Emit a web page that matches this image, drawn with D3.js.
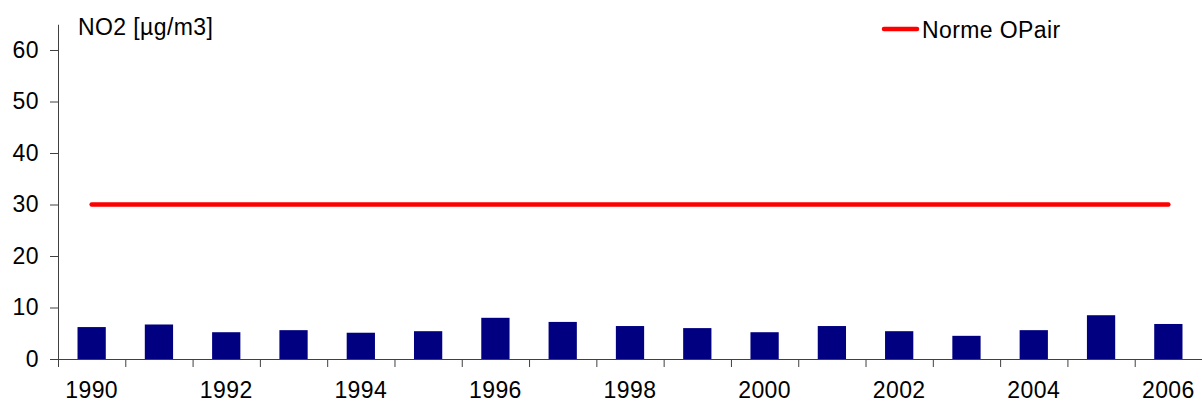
<!DOCTYPE html>
<html>
<head>
<meta charset="utf-8">
<script src="https://cdn.jsdelivr.net/npm/d3@7"></script>
<style>
  html, body { margin: 0; padding: 0; background: #fff; }
  svg { display: block; font-family: "Liberation Sans", Arial, sans-serif; }
</style>
</head>
<body>
<svg id="chart" width="1202" height="403"></svg>
<script>
const years = [1990, 1991, 1992, 1993, 1994, 1995, 1996, 1997, 1998, 1999, 2000, 2001, 2002, 2003, 2004, 2005, 2006];
const no2Values = [6.2, 6.7, 5.2, 5.6, 5.1, 5.4, 8.0, 7.2, 6.4, 6.0, 5.2, 6.4, 5.4, 4.5, 5.6, 8.5, 6.8];
const normeValue = 30;
const yTicks = [0, 10, 20, 30, 40, 50, 60];
const xTickLabels = [1990, 1992, 1994, 1996, 1998, 2000, 2002, 2004, 2006];
const yLabel = "NO2 [µg/m3]";
const legendLabel = "Norme OPair";

const svg = d3.select("#chart");
const left = 58, right = 1202, bottom = 359;
const fontSize = 23;
const spacing = "0.4px";

const x = d3.scaleBand().domain(years).range([left, right]).paddingInner(0.58).paddingOuter(0.29);
const xEdges = d3.scaleLinear().domain([0, years.length]).range([left, right]);
const y = d3.scaleLinear().domain([0, 65]).range([bottom, 24.25]);

const axisColor = "#404040";

// bars
svg.append("g").selectAll("rect").data(years).join("rect")
  .attr("x", d => x(d))
  .attr("y", (d, i) => y(no2Values[i]))
  .attr("width", x.bandwidth())
  .attr("height", (d, i) => y(0) - y(no2Values[i]))
  .attr("fill", "#000080");

// norm line
const lineData = years.map(yr => [x(yr) + x.bandwidth() / 2, y(normeValue)]);
svg.append("path")
  .attr("d", d3.line()(lineData))
  .attr("stroke", "#ff0000").attr("stroke-width", 4.5)
  .attr("stroke-linecap", "round").attr("fill", "none");

// y axis
const gy = svg.append("g").attr("transform", `translate(${left},0)`)
  .call(d3.axisLeft(y).tickValues(yTicks).tickSize(8).tickPadding(11).tickSizeOuter(0));
gy.select(".domain").attr("stroke", axisColor);
gy.selectAll(".tick line").attr("stroke", axisColor);
gy.selectAll(".tick text").attr("font-size", fontSize).attr("fill", "#000")
  .attr("letter-spacing", spacing)
  .attr("font-family", "Liberation Sans, Arial, sans-serif");

// x axis edge ticks
const gxe = svg.append("g").attr("transform", `translate(0,${bottom})`)
  .call(d3.axisBottom(xEdges).tickValues(d3.range(0, years.length + 1)).tickSize(8).tickFormat("").tickSizeOuter(0));
gxe.select(".domain").attr("stroke", axisColor);
gxe.selectAll(".tick line").attr("stroke", axisColor);

// x axis labels
const gx = svg.append("g").attr("transform", `translate(0,${bottom})`)
  .call(d3.axisBottom(x).tickValues(xTickLabels).tickSize(0));
gx.select(".domain").remove();
gx.selectAll(".tick text").attr("font-size", fontSize).attr("fill", "#000")
  .attr("letter-spacing", spacing)
  .attr("dy", null).attr("y", 39)
  .attr("font-family", "Liberation Sans, Arial, sans-serif");

// y label
svg.append("text").attr("x", 78).attr("y", 35).attr("font-size", fontSize)
  .attr("letter-spacing", spacing).attr("fill", "#000").text(yLabel);

// legend
svg.append("line").attr("x1", 884).attr("x2", 917).attr("y1", 29).attr("y2", 29)
  .attr("stroke", "#ff0000").attr("stroke-width", 4.5).attr("stroke-linecap", "round");
svg.append("text").attr("x", 922).attr("y", 38).attr("font-size", fontSize)
  .attr("letter-spacing", spacing).attr("fill", "#000").text(legendLabel);
</script>
</body>
</html>
